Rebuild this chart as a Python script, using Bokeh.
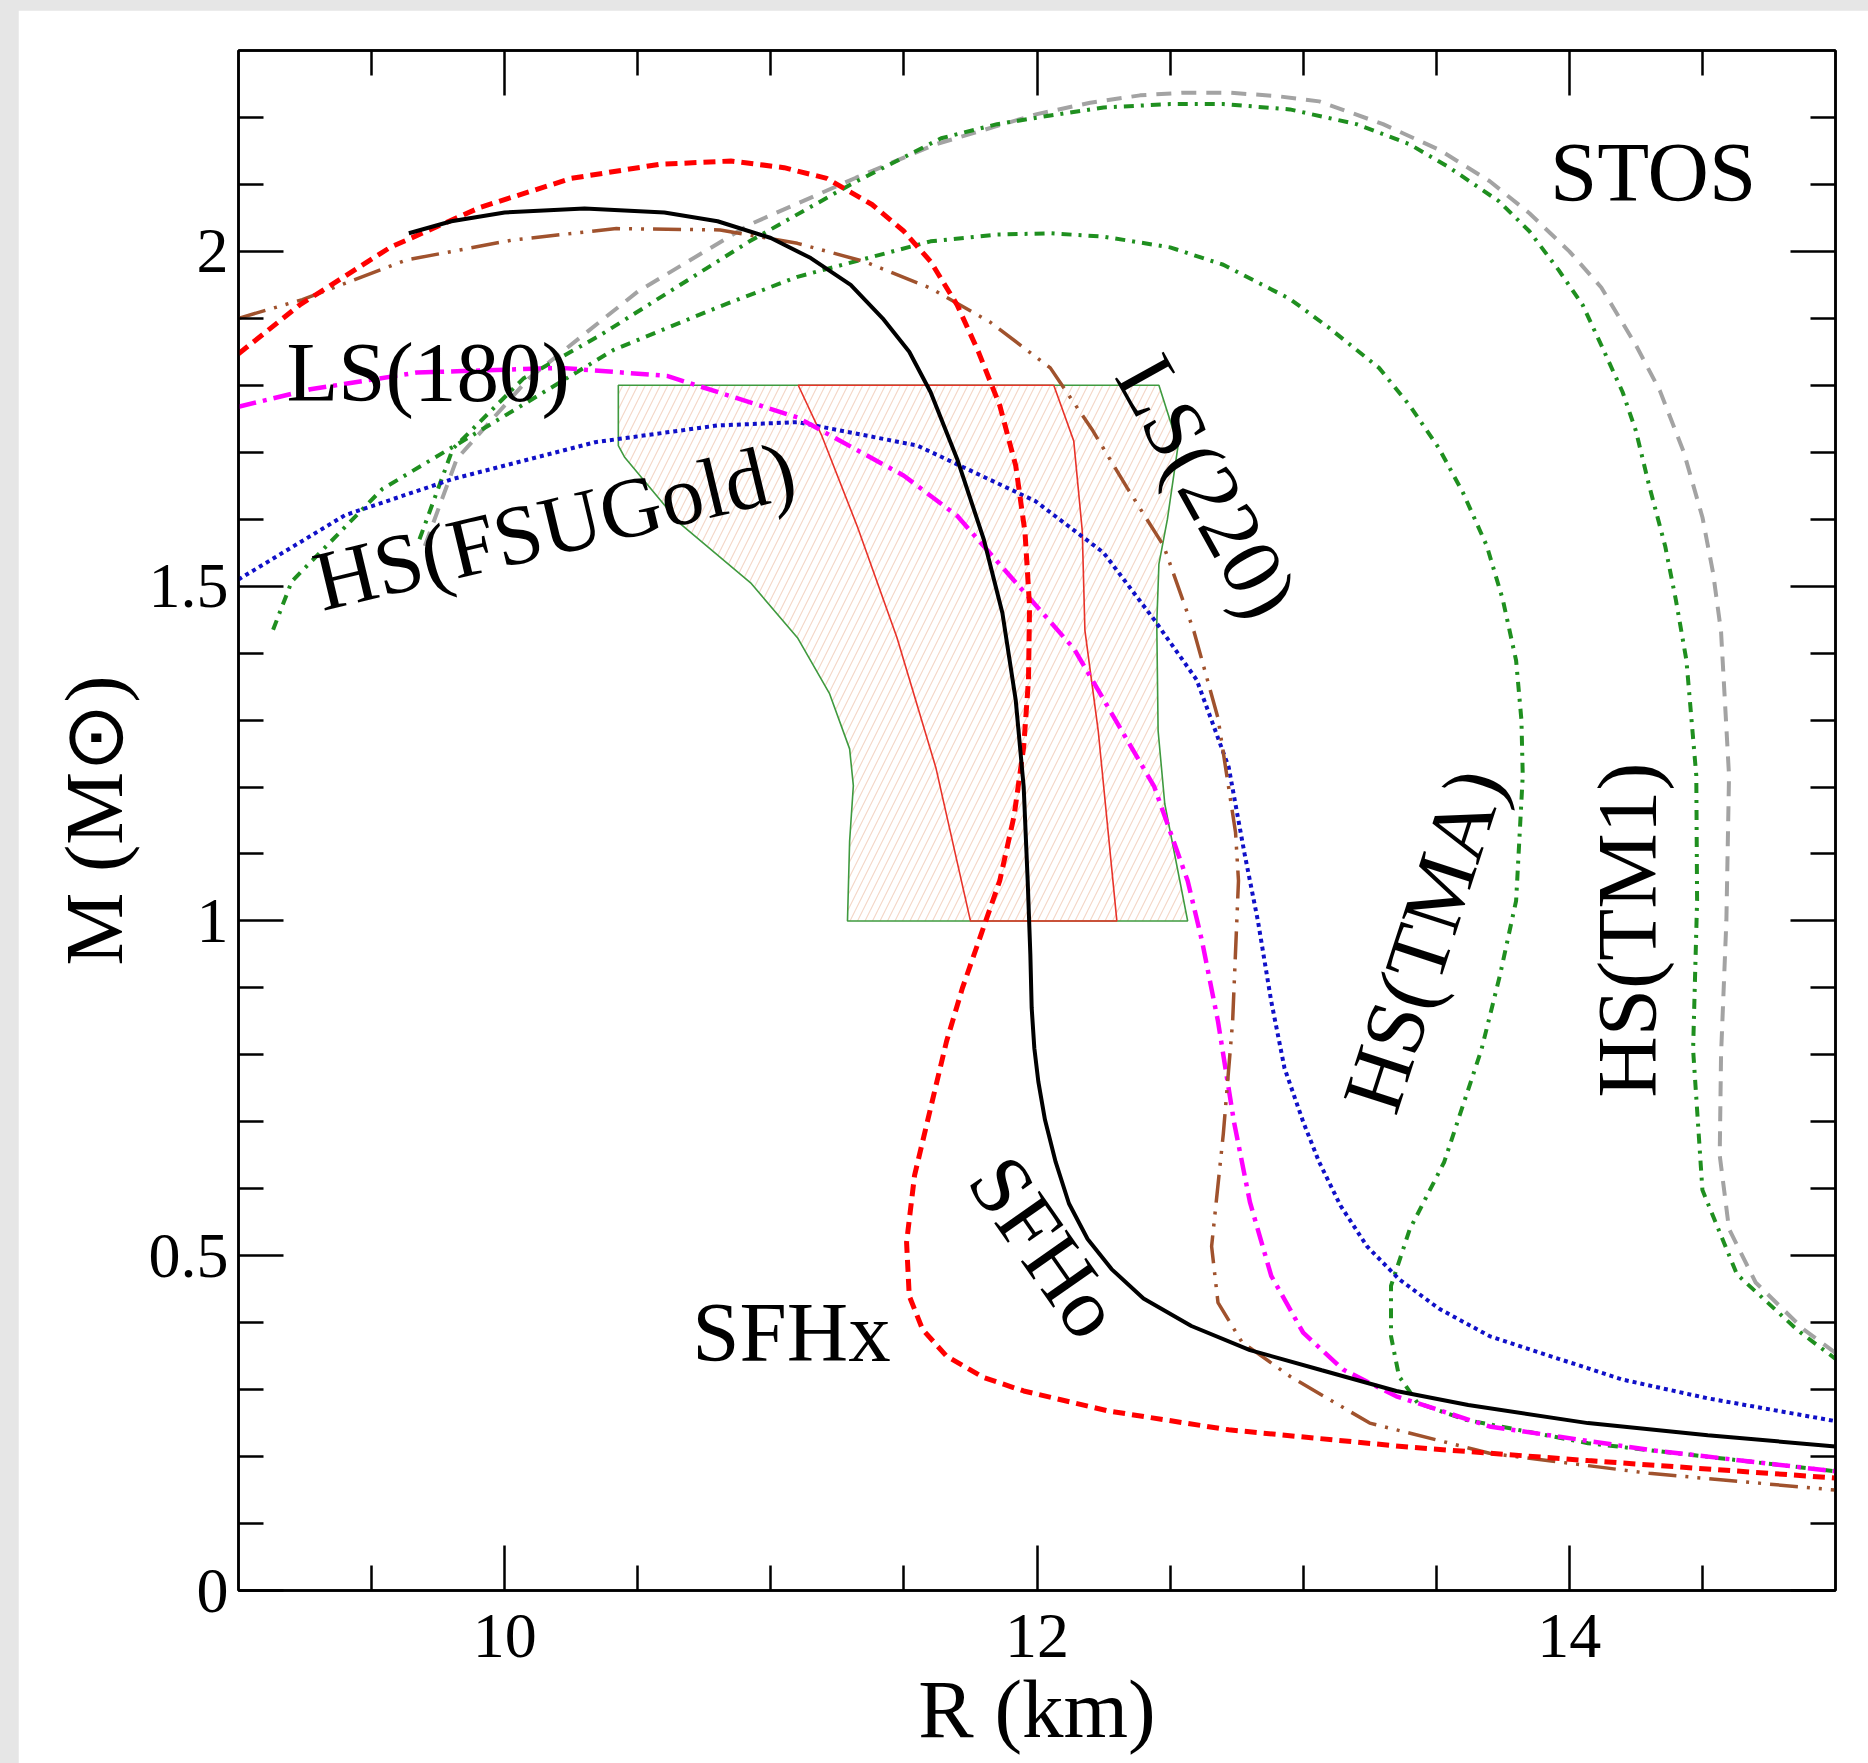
import numpy as np
from bokeh.plotting import figure
from bokeh.models import LinearAxis, FixedTicker, Label, Range1d, NumeralTickFormatter
from bokeh.layouts import column
from bokeh.embed import file_html
from bokeh.resources import INLINE

# ---------------- data (R in km, M in solar masses) ----------------
X_MAJOR = [10, 12, 14]
X_MINOR = [9.5, 10.5, 11, 11.5, 12.5, 13, 13.5, 14.5]
Y_MAJOR = [0, 0.5, 1, 1.5, 2]
Y_MINOR = [0.1, 0.2, 0.3, 0.4, 0.6, 0.7, 0.8, 0.9, 1.1, 1.2, 1.3, 1.4,
           1.6, 1.7, 1.8, 1.9, 2.1, 2.2]

sfho_r = [9.64, 9.8, 10.0, 10.3, 10.6, 10.8, 11.0, 11.15, 11.3, 11.42, 11.52, 11.6,
          11.7, 11.8, 11.87, 11.92, 11.95, 11.965, 11.975, 11.98, 11.99, 12.005, 12.03,
          12.07, 12.12, 12.19, 12.28, 12.40, 12.58, 12.80, 13.07, 13.35, 13.62, 14.07,
          14.52, 15.0]
sfho_m = [2.027, 2.045, 2.058, 2.064, 2.058, 2.045, 2.02, 1.99, 1.95, 1.90, 1.85, 1.79,
          1.69, 1.57, 1.46, 1.33, 1.2, 1.06, 0.95, 0.87, 0.81, 0.76, 0.703,
          0.64, 0.578, 0.525, 0.48, 0.436, 0.395, 0.359, 0.329, 0.298, 0.277, 0.25,
          0.232, 0.215]

sfhx_r = [9.0, 9.23, 9.57, 9.91, 10.25, 10.58, 10.85, 11.05, 11.21, 11.38, 11.5, 11.6,
          11.7, 11.78, 11.86, 11.92, 11.955, 11.972, 11.968, 11.95, 11.914, 11.86, 11.79,
          11.72, 11.66, 11.6, 11.54, 11.51, 11.52, 11.57, 11.66, 11.8, 11.95, 12.27,
          12.72, 13.4, 14.07, 15.0]
sfhx_m = [1.847, 1.92, 2.006, 2.066, 2.109, 2.13, 2.135, 2.125, 2.109, 2.07, 2.03, 1.985,
          1.92, 1.85, 1.77, 1.68, 1.58, 1.47, 1.36, 1.26, 1.157, 1.06, 0.98,
          0.9, 0.82, 0.72, 0.62, 0.52, 0.44, 0.39, 0.35, 0.318, 0.298, 0.268,
          0.24, 0.214, 0.194, 0.168]

ls220_r = [9.0, 9.24, 9.63, 10.03, 10.42, 10.81, 11.1, 11.35, 11.6, 11.825, 12.05, 12.21,
           12.34, 12.476, 12.59, 12.68, 12.746, 12.757, 12.735, 12.70, 12.656, 12.68,
           12.77, 12.95, 13.25, 13.7, 14.3, 15.0]
ls220_m = [1.90, 1.928, 1.987, 2.017, 2.034, 2.032, 2.012, 1.985, 1.945, 1.894, 1.826, 1.732,
           1.646, 1.56, 1.432, 1.303, 1.132, 1.06, 0.85, 0.682, 0.514, 0.43,
           0.371, 0.32, 0.25, 0.205, 0.175, 0.15]

ls180_r = [9.0, 9.27, 9.67, 10.21, 10.61, 11.1, 11.5, 11.7, 12.14, 12.44, 12.566, 12.62,
           12.68, 12.74, 12.8, 12.88, 13.0, 13.15, 13.35, 13.7, 14.3, 15.0]
ls180_m = [1.768, 1.794, 1.819, 1.826, 1.814, 1.752, 1.665, 1.605, 1.406, 1.201, 1.06, 0.97,
           0.85, 0.7, 0.58, 0.47, 0.385, 0.33, 0.29, 0.245, 0.21, 0.178]

fsu_r = [9.0, 9.4, 9.805, 10.34, 10.8, 11.1, 11.55, 11.994, 12.25, 12.44, 12.6, 12.72,
         12.78, 12.83, 12.88, 12.93, 13.0, 13.06, 13.14, 13.24, 13.36, 13.51, 13.7,
         13.96, 14.2, 14.52, 15.0]
fsu_m = [1.51, 1.606, 1.66, 1.715, 1.74, 1.745, 1.71, 1.627, 1.55, 1.45, 1.36, 1.23,
         1.1, 1.0, 0.88, 0.78, 0.7, 0.64, 0.575, 0.514, 0.465, 0.421, 0.38,
         0.346, 0.315, 0.287, 0.253]

tma_r = [9.13, 9.2, 9.54, 9.94, 10.41, 10.81, 11.1, 11.6, 11.85, 12.05, 12.25, 12.5,
         12.7, 12.95, 13.1, 13.285, 13.4, 13.51, 13.6, 13.69, 13.75, 13.80, 13.82,
         13.825, 13.80, 13.74, 13.67, 13.53, 13.40, 13.33, 13.33, 13.36, 13.43, 13.61,
         14.07, 15.0]
tma_m = [1.435, 1.507, 1.645, 1.74, 1.853, 1.918, 1.962, 2.015, 2.025, 2.027, 2.022, 2.006,
         1.98, 1.929, 1.885, 1.826, 1.77, 1.706, 1.64, 1.56, 1.48, 1.389, 1.3,
         1.217, 1.03, 0.92, 0.808, 0.64, 0.539, 0.455, 0.38, 0.32, 0.28, 0.255,
         0.22, 0.178]

tm1_r = [9.68, 9.805, 10.07, 10.36, 10.62, 10.92, 11.3, 11.64, 11.85, 12.05, 12.25, 12.5,
         12.7, 12.95, 13.2, 13.40, 13.55, 13.735, 13.85, 13.96, 14.05, 14.12, 14.2, 14.25,
         14.3, 14.36, 14.4, 14.44, 14.477, 14.48, 14.465, 14.50, 14.63, 14.86, 15.0]
tm1_m = [1.57, 1.705, 1.81, 1.875, 1.94, 2.015, 2.1, 2.169, 2.19, 2.203, 2.215, 2.22,
         2.22, 2.212, 2.19, 2.16, 2.125, 2.075, 2.03, 1.972, 1.92, 1.86, 1.79, 1.732,
         1.65, 1.56, 1.48, 1.389, 1.217, 1.03, 0.808, 0.598, 0.472, 0.388, 0.346]

stos_r = [9.7, 9.82, 10.09, 10.5, 10.92, 11.32, 11.62, 12.0, 12.2, 12.387, 12.55, 12.72,
          12.9, 13.06, 13.3, 13.51, 13.7, 13.85, 14.0, 14.12, 14.25, 14.34, 14.43, 14.50,
          14.54, 14.57, 14.60, 14.59, 14.57, 14.565, 14.6, 14.7, 14.88, 15.0]
stos_m = [1.56, 1.69, 1.81, 1.94, 2.04, 2.11, 2.16, 2.205, 2.222, 2.233, 2.237, 2.237,
          2.232, 2.224, 2.19, 2.152, 2.105, 2.057, 2.0, 1.946, 1.86, 1.792, 1.7, 1.603,
          1.52, 1.432, 1.217, 1.0, 0.8, 0.65, 0.54, 0.46, 0.39, 0.355]

band2_r = [10.427, 10.427, 10.45, 10.657, 10.924, 11.10, 11.22, 11.296, 11.31, 11.296,
           11.288, 12.566, 12.48, 12.455, 12.45, 12.458, 12.49, 12.53, 12.458]
band2_m = [1.80, 1.71, 1.693, 1.594, 1.505, 1.423, 1.34, 1.257, 1.202, 1.119,
           1.0, 1.0, 1.175, 1.284, 1.444, 1.533, 1.60, 1.71, 1.80]

band1_r = [11.103, 11.19, 11.326, 11.474, 11.62, 11.75, 12.30, 12.23, 12.18, 12.17,
           12.138, 12.063]
band1_m = [1.80, 1.726, 1.588, 1.423, 1.229, 1.0, 1.0, 1.284, 1.434, 1.583,
           1.717, 1.80]

SERIF = "Liberation Serif"

# ---------------- figure ----------------
p = figure(width=1850, height=1753, output_backend="svg", toolbar_location=None,
           x_range=Range1d(9, 15), y_range=Range1d(0, 2.3),
           min_border_left=220, min_border_right=33, min_border_top=40,
           min_border_bottom=173, background_fill_color="white",
           border_fill_color="white", outline_line_color="black",
           outline_line_width=2.5, margin=(10, 0, 0, 18))
p.xgrid.visible = False
p.ygrid.visible = False

xt = FixedTicker(ticks=X_MAJOR, minor_ticks=X_MINOR)
yt = FixedTicker(ticks=Y_MAJOR, minor_ticks=Y_MINOR)


def style_axis(ax, ticker, majors, labels=True):
    ax.ticker = ticker
    ax.axis_line_width = 2.5
    ax.axis_line_color = "black"
    ax.major_tick_in = 45
    ax.major_tick_out = 0
    ax.minor_tick_in = 25
    ax.minor_tick_out = 0
    ax.major_tick_line_width = 2.5
    ax.minor_tick_line_width = 2.5
    ax.major_tick_line_color = "black"
    ax.minor_tick_line_color = "black"
    if labels:
        ax.major_label_text_font = SERIF
        ax.major_label_text_font_size = "64px"
        ax.major_label_text_color = "black"
    else:
        ax.major_label_overrides = {t: "" for t in majors}
        ax.major_label_text_font_size = "8px"
        ax.major_label_standoff = 0


xa = p.xaxis[0]
style_axis(xa, xt, X_MAJOR)
xa.major_label_standoff = 24
xa.axis_label = "R (km)"
xa.axis_label_text_font = SERIF
xa.axis_label_text_font_size = "83px"
xa.axis_label_text_font_style = "normal"
xa.axis_label_text_color = "black"
xa.axis_label_standoff = 3

ya = p.yaxis[0]
style_axis(ya, yt, Y_MAJOR)
ya.major_label_standoff = 10
ya.formatter = NumeralTickFormatter(format="0.[0]")
ya.axis_label = "M (M\u2299)"
ya.axis_label_text_font = SERIF
ya.axis_label_text_font_size = "82px"
ya.axis_label_text_font_style = "normal"
ya.axis_label_text_color = "black"
ya.axis_label_standoff = 6

top_ax = LinearAxis()
style_axis(top_ax, xt, X_MAJOR, labels=False)
p.add_layout(top_ax, "above")
right_ax = LinearAxis()
style_axis(right_ax, yt, Y_MAJOR, labels=False)
p.add_layout(right_ax, "right")

# ---------------- constraint bands ----------------
p.patch(band2_r, band2_m, fill_color="white", fill_alpha=0.0,
        hatch_pattern="/", hatch_color="#f4d6c6", hatch_weight=1.1, hatch_scale=15,
        line_color="#3f9a3f", line_width=1.6)
p.patch(band1_r, band1_m, fill_alpha=0.0, line_color="#e8332a", line_width=1.6)

# ---------------- M-R curves ----------------
p.line(stos_r, stos_m, line_color="#a3a3a3", line_width=4, line_dash="15 10")
p.line(tm1_r, tm1_m, line_color="#1f8f1f", line_width=4, line_dash="10 7 3 7")
p.line(tma_r, tma_m, line_color="#1f8f1f", line_width=4, line_dash="10 7 3 7")
p.line(fsu_r, fsu_m, line_color="#1010c8", line_width=4, line_dash="4 4")
p.line(ls180_r, ls180_m, line_color="#ff00ff", line_width=4.5, line_dash="18 7 4 7")
p.line(ls220_r, ls220_m, line_color="#a0522d", line_width=3.5, line_dash="28 9 3 9 3 9")
p.line(sfhx_r, sfhx_m, line_color="#ff0000", line_width=5, line_dash="12 7")
p.line(sfho_r, sfho_m, line_color="black", line_width=4)

# ---------------- curve labels ----------------
LBL = "85px"


def add_label(x, y, text, angle=0.0, size=LBL, align="left"):
    p.add_layout(Label(x=x, y=y, text=text, angle=angle, text_font=SERIF,
                       text_font_size=size, text_color="black",
                       text_align=align, text_baseline="alphabetic"))


add_label(13.927, 2.118, "STOS")
add_label(9.18, 1.820, "LS(180)")
add_label(9.29, 1.505, "HS(FSUGold)", angle=np.deg2rad(13.5))
add_label(12.384, 1.834, "LS(220)", angle=np.deg2rad(-61))
add_label(13.245, 0.72, "HS(TMA)", angle=np.deg2rad(72))
add_label(14.218, 0.736, "HS(TM1)", angle=np.deg2rad(90))
add_label(11.82, 0.635, "SFHo", angle=np.deg2rad(-55))
add_label(10.705, 0.386, "SFHx")

page = column(p, styles={"background-color": "#e6e6e6"})

open("out.html", "w").write(file_html(page, INLINE))
